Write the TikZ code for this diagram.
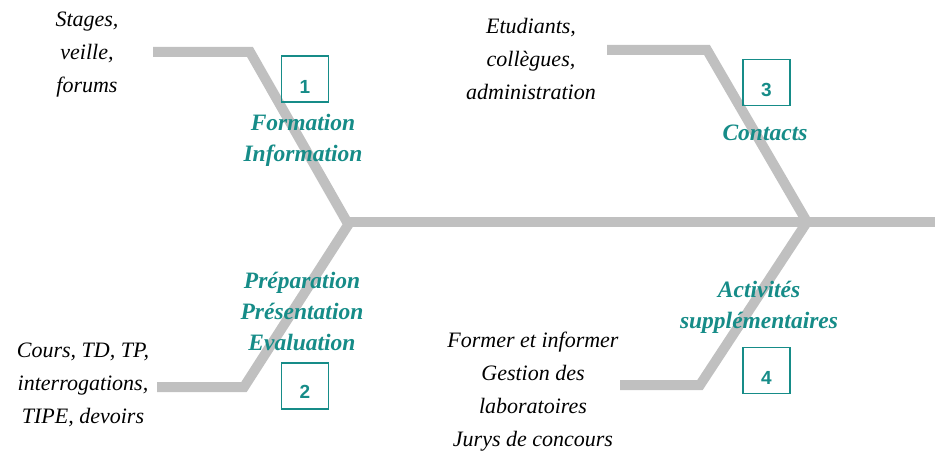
\documentclass[tikz,border=0pt]{standalone}
\usepackage{fontspec}
\setmainfont{Liberation Serif}
\newfontfamily\numfont{Liberation Sans}
\definecolor{teal1}{HTML}{168C88}
\definecolor{bone}{HTML}{C0C0C0}
\tikzset{
  bonepath/.style={draw=bone, line width=10pt, line join=miter},
  blacklabel/.style={align=center, inner sep=0pt, font=\itshape\fontsize{22}{33}\selectfont},
  teallabel/.style={align=center, inner sep=0pt, text=teal1, font=\bfseries\itshape\fontsize{23.5}{31}\selectfont},
  numbox/.style={draw=teal1, line width=1.5pt, minimum width=47pt, minimum height=46pt, inner sep=0pt,
     text=teal1, font=\numfont\bfseries\fontsize{19}{19}\selectfont}
}
\begin{document}
\begin{tikzpicture}[x=1pt,y=-1pt]
\useasboundingbox (0,0) rectangle (935,452);
% skeleton coordinates
\coordinate (h1) at (347,222);
\coordinate (h2) at (807,222);
\coordinate (tail) at (935,222);
\coordinate (b1s) at (153,52);
\coordinate (b1k) at (250,52);
\coordinate (b3s) at (607,50);
\coordinate (b3k) at (707,50);
\coordinate (b2s) at (157,387);
\coordinate (b2k) at (244,387);
\coordinate (b4s) at (620,385);
\coordinate (b4k) at (700,385);
\draw[bonepath] (h1) -- (tail);
\draw[bonepath] (b1s) -- (b1k) -- (h1);
\draw[bonepath] (b3s) -- (b3k) -- (h2);
\draw[bonepath] (b2s) -- (b2k) -- (350,222);
\draw[bonepath] (b4s) -- (b4k) -- (h2);
% black labels
\node[blacklabel] (t1) at (87,55) {Stages,\\veille,\\forums};
\node[blacklabel] (t3) at (531,59) {Etudiants,\\collègues,\\administration};
\node[blacklabel] (t2) at (83,385) {Cours, TD, TP,\\interrogations,\\TIPE, devoirs};
\node[blacklabel] (t4) at (533,392) {Former et informer\\Gestion des\\laboratoires\\Jurys de concours};
% teal labels
\node[teallabel] (c1) at (303,140) {Formation\\Information};
\node[teallabel] (c3) at (765,133) {Contacts};
\node[teallabel] (c2) at (302,311) {Préparation\\Présentation\\Evaluation};
\node[teallabel] (c4) at (759,307) {Activités\\supplémentaires};
% number boxes
\node[numbox] (n1) at (305,79) {\smash{\raisebox{-14.5pt}{1}}};
\node[numbox] (n3) at (766.5,82.5) {\smash{\raisebox{-14.3pt}{3}}};
\node[numbox] (n2) at (305,386) {\smash{\raisebox{-12.8pt}{2}}};
\node[numbox] (n4) at (766.5,370.5) {\smash{\raisebox{-14.3pt}{4}}};
\end{tikzpicture}
\end{document}
